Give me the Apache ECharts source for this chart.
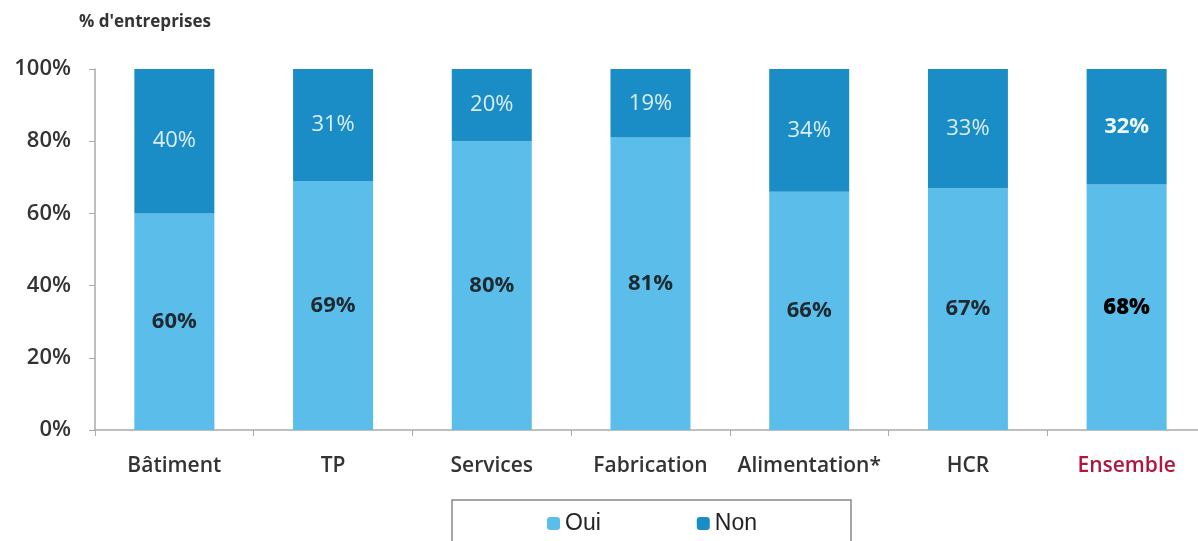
<!DOCTYPE html>
<html>
<head>
<meta charset="utf-8">
<script src="https://cdn.jsdelivr.net/npm/echarts@6/dist/echarts.min.js"></script>
<style>
    html, body { margin: 0; padding: 0; background: #fff; }
    #chart { width: 1198px; height: 541px; }
</style>
</head>
<body>
<div id="chart"></div>
<script>
    // données
    const categories = ['Bâtiment', 'TP', 'Services', 'Fabrication', 'Alimentation*', 'HCR', 'Ensemble'];
    const oui = [60, 69, 80, 81, 66, 67, 68];
    const non = [40, 31, 20, 19, 34, 33, 32];
    const yTicks = [0, 20, 40, 60, 80, 100];

    const myChart = echarts.init(document.getElementById('chart'));
    const font = 'Open Sans, DejaVu Sans, sans-serif';

    // la colonne "Ensemble" est en gras
    function mark(values, extra) {
        return values.map(function (v, i) {
            return categories[i] === 'Ensemble' ? { value: v, label: extra } : v;
        });
    }

    const option = {
        animation: false,
        title: {
            text: "% d'entreprises",
            left: 74,
            top: 9,
            textStyle: { fontFamily: font, fontSize: 17, fontWeight: 'bold', color: '#333' }
        },
        legend: {
            data: ['Oui', 'Non'],
            bottom: -10,
            left: 452,
            padding: [12, 94, 16, 95],
            itemGap: 96,
            itemWidth: 13,
            itemHeight: 13,
            borderColor: '#888',
            borderWidth: 1.5,
            textStyle: { fontFamily: 'Liberation Sans, Arial, sans-serif', fontSize: 23, color: '#222' }
        },
        grid: {
            left: 95,
            top: 69,
            width: 1111,
            height: 361,
            outerBoundsMode: 'none'
        },
        xAxis: {
            type: 'category',
            data: categories,
            axisLine: { lineStyle: { color: '#aaa', width: 1.5 } },
            axisTick: { show: true, length: 6, lineStyle: { color: '#aaa' } },
            axisLabel: {
                interval: 0,
                margin: 26,
                fontFamily: font,
                fontSize: 21,
                fontWeight: 600,
                color: function (v) { return v === 'Ensemble' ? '#b0173f' : '#333'; }
            }
        },
        yAxis: {
            type: 'value',
            min: 0,
            max: 100,
            interval: 20,
            axisLine: { show: true, lineStyle: { color: '#aaa', width: 1.5 } },
            axisTick: { show: true, length: 6, lineStyle: { color: '#aaa' } },
            splitLine: { show: false },
            axisLabel: {
                margin: 24,
                fontFamily: font,
                fontSize: 22,
                fontWeight: 600,
                color: '#333',
                formatter: function (v) { return yTicks.indexOf(v) >= 0 ? v + '%' : ''; }
            }
        },
        series: [
            {
                name: 'Oui',
                type: 'bar',
                stack: 'total',
                barWidth: 80,
                itemStyle: { color: '#5bbde9' },
                label: {
                    show: true,
                    position: 'inside',
                    fontFamily: font,
                    fontSize: 22,
                    fontWeight: 'bold',
                    color: '#1e2a30',
                    formatter: '{c}%'
                },
                data: mark(oui, { color: '#000', fontWeight: 800 })
            },
            {
                name: 'Non',
                type: 'bar',
                stack: 'total',
                barWidth: 80,
                itemStyle: { color: '#1a8cc6' },
                label: {
                    show: true,
                    position: 'inside',
                    fontFamily: font,
                    fontSize: 22,
                    color: '#dceef7',
                    formatter: '{c}%'
                },
                data: mark(non, { fontWeight: 'bold', color: '#eef7fb' })
            }
        ]
    };
    myChart.setOption(option);
</script>
</body>
</html>
